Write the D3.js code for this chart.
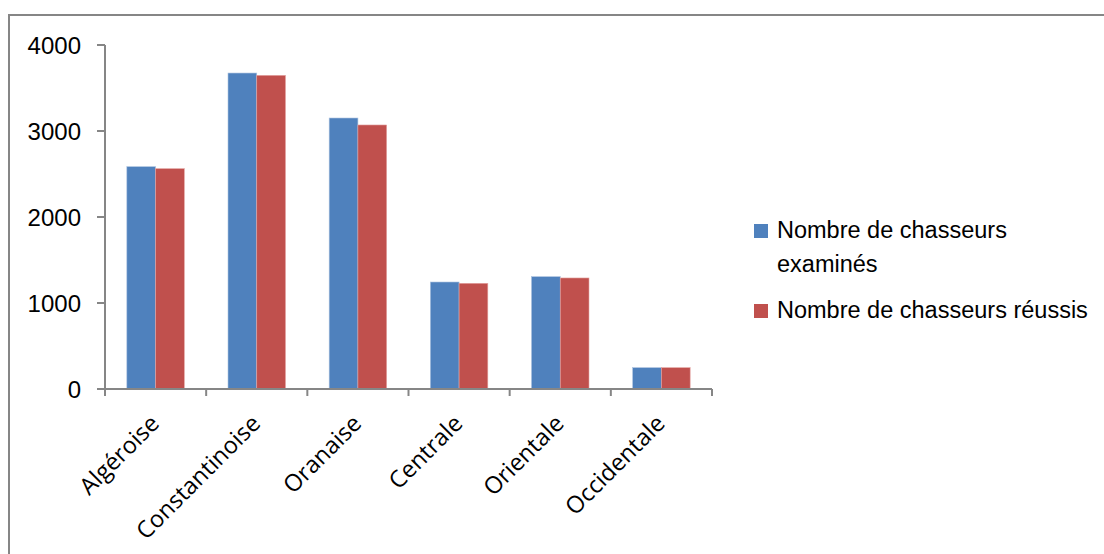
<!DOCTYPE html>
<html>
<head>
<meta charset="utf-8">
<script src="https://cdn.jsdelivr.net/npm/d3@7"></script>
<style>
  html, body { margin: 0; padding: 0; background: #fff; }
  svg { display: block; }
</style>
</head>
<body>
<div id="chart"></div>
<script>
// Data
const categories = ["Algéroise", "Constantinoise", "Oranaise", "Centrale", "Orientale", "Occidentale"];
const seriesNames = ["Nombre de chasseurs examinés", "Nombre de chasseurs réussis"];
const examines = [2585, 3674, 3151, 1244, 1306, 248];
const reussis = [2562, 3647, 3070, 1229, 1291, 248];
const yTicks = [0, 1000, 2000, 3000, 4000];
const colors = ["#4F81BD", "#C0504D"];

const W = 1104, H = 554;
const AXIS = "#868686";

const svg = d3.select("#chart").append("svg")
  .attr("width", W).attr("height", H);

// outer chart border (only top and left visible)
svg.append("path")
  .attr("d", `M9,${H} V15 H${W}`)
  .attr("fill", "none").attr("stroke", AXIS).attr("stroke-width", 2);

const x0 = d3.scaleBand().domain(categories).range([105, 712]).padding(0);
const x1 = d3.scaleBand().domain([0, 1]).range([0, x0.bandwidth()])
  .paddingInner(0).paddingOuter(0.76);
const y = d3.scaleLinear().domain([0, 4000]).range([389, 45]);

// bars
const g = svg.append("g");
categories.forEach((c, i) => {
  [examines[i], reussis[i]].forEach((v, s) => {
    g.append("rect")
      .attr("x", x0(c) + x1(s))
      .attr("y", y(v))
      .attr("width", x1.bandwidth())
      .attr("height", y(0) - y(v))
      .attr("fill", colors[s])
      .attr("stroke", s === 0 ? "#a9c0de" : "#e3a3a1")
      .attr("stroke-width", 0.6);
  });
});

// y axis
const yAxis = svg.append("g");
yAxis.append("line")
  .attr("x1", 105).attr("x2", 105).attr("y1", y(4000)).attr("y2", y(0))
  .attr("stroke", AXIS).attr("stroke-width", 2);
yTicks.forEach(t => {
  yAxis.append("line")
    .attr("x1", 97).attr("x2", 105).attr("y1", y(t)).attr("y2", y(t))
    .attr("stroke", AXIS).attr("stroke-width", 2);
  yAxis.append("text")
    .attr("x", 81).attr("y", y(t)).attr("dy", "0.36em")
    .attr("text-anchor", "end")
    .attr("font-family", "Liberation Sans, Arial, sans-serif")
    .attr("font-size", 24).attr("fill", "#000")
    .text(t);
});

// x axis
const xAxis = svg.append("g");
xAxis.append("line")
  .attr("x1", 105).attr("x2", 712).attr("y1", y(0)).attr("y2", y(0))
  .attr("stroke", AXIS).attr("stroke-width", 2);
const bounds = categories.map(c => x0(c)).concat([x0.range()[1]]);
bounds.forEach(b => {
  xAxis.append("line")
    .attr("x1", b).attr("x2", b).attr("y1", y(0)).attr("y2", y(0) + 7)
    .attr("stroke", AXIS).attr("stroke-width", 2);
});
categories.forEach(c => {
  const cx = x0(c) + x0.bandwidth() / 2 + 5;
  xAxis.append("text")
    .attr("transform", `translate(${cx},425) rotate(-45)`)
    .attr("text-anchor", "end")
    .attr("font-family", "Open Sans, sans-serif")
    .attr("font-size", 23.5).attr("fill", "#000")
    .text(c);
});

// legend
const legend = svg.append("g").attr("font-family", "Liberation Sans, Arial, sans-serif")
  .attr("font-size", 23.5).attr("fill", "#000");
const legendItems = [
  { lines: ["Nombre de chasseurs", "examinés"], y: 238 },
  { lines: [seriesNames[1]], y: 318 }
];
legendItems.forEach((it, i) => {
  legend.append("rect")
    .attr("x", 754).attr("y", it.y - 14)
    .attr("width", 14).attr("height", 14)
    .attr("fill", colors[i]);
  it.lines.forEach((l, k) => {
    legend.append("text")
      .attr("x", 777).attr("y", it.y + k * 34)
      .text(l);
  });
});
</script>
</body>
</html>
